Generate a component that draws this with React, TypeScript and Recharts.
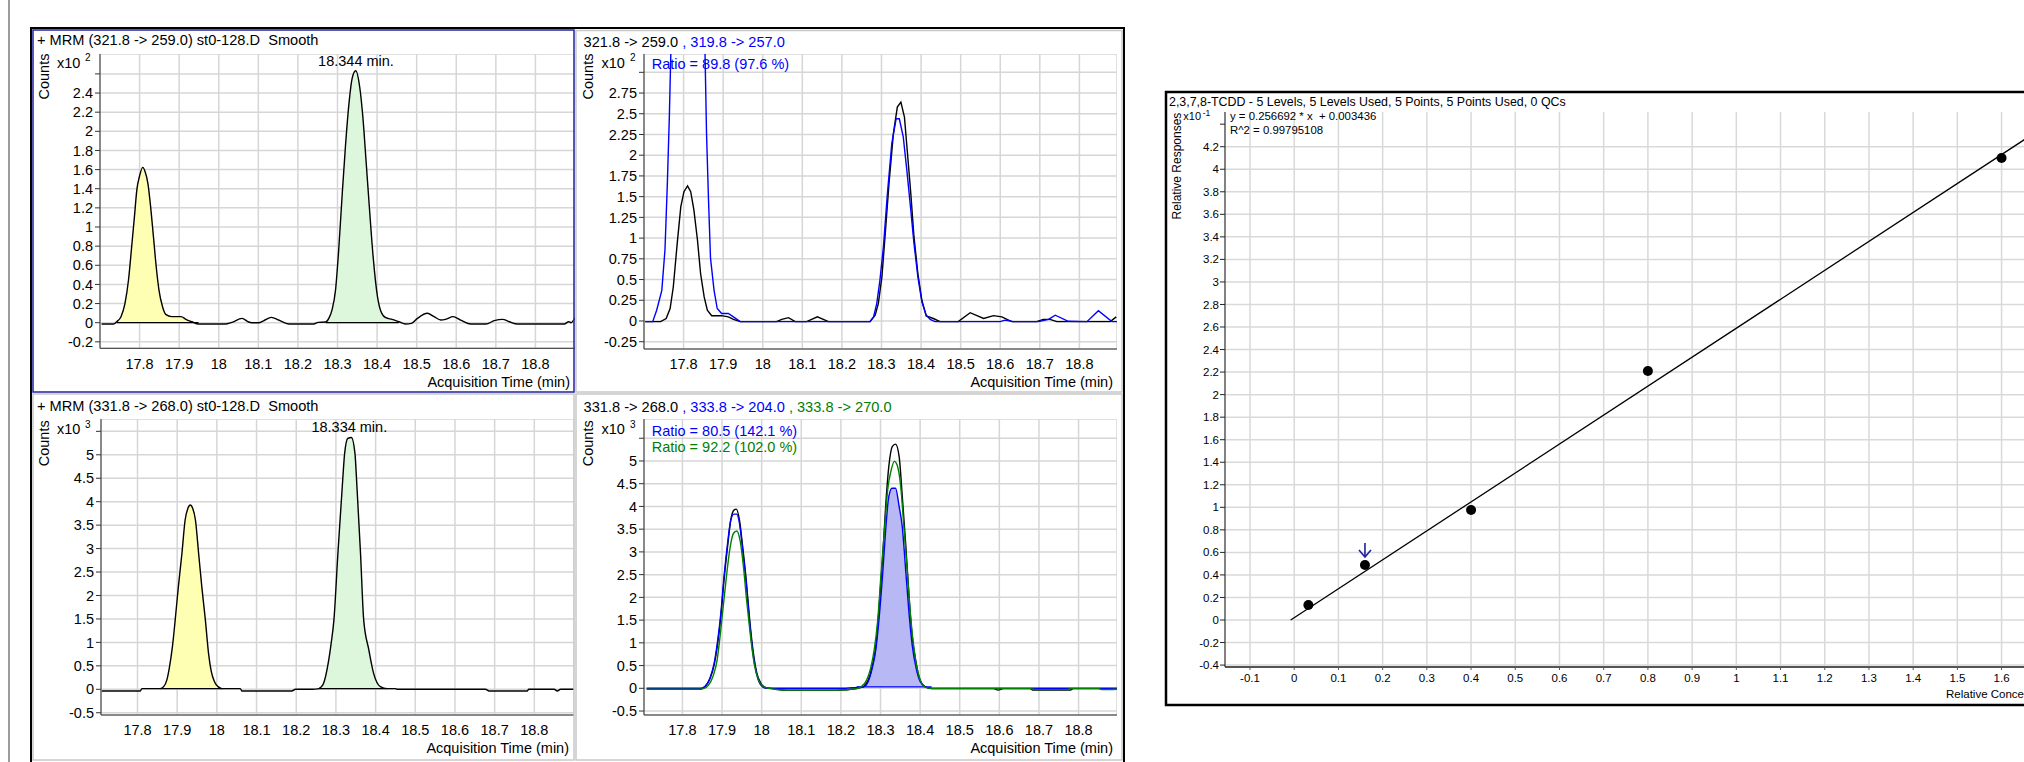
import React from "react";
import { Area, CartesianGrid, ComposedChart, Line, Scatter, XAxis, YAxis } from "recharts";

type Pt = { t: number; v: number };
const pts = (rows: number[][]): Pt[] => rows.map(([t, v]) => ({ t, v }));

// ---- chromatogram data (time in min, counts in x10^n) ----
const timeTicks = [17.8, 17.9, 18, 18.1, 18.2, 18.3, 18.4, 18.5, 18.6, 18.7, 18.8];
const p1Ticks = [-0.2, 0, 0.2, 0.4, 0.6, 0.8, 1, 1.2, 1.4, 1.6, 1.8, 2, 2.2, 2.4, 2.6];
const p2Ticks = [-0.25, 0, 0.25, 0.5, 0.75, 1, 1.25, 1.5, 1.75, 2, 2.25, 2.5, 2.75, 3];
const p34Ticks = [-0.5, 0, 0.5, 1, 1.5, 2, 2.5, 3, 3.5, 4, 4.5, 5, 5.5];

const q1Trace = pts([
  [17.704, -0.014], [17.734, -0.014], [17.742, 0.01], [17.753, 0.063], [17.763, 0.2], [17.772, 0.446],
  [17.78, 0.794], [17.787, 1.108], [17.793, 1.386], [17.8, 1.533], [17.808, 1.623], [17.814, 1.578],
  [17.821, 1.456], [17.827, 1.247], [17.835, 0.899], [17.842, 0.585], [17.849, 0.341], [17.858, 0.167],
  [17.866, 0.087], [17.881, 0.063], [17.905, 0.063], [17.917, 0.035], [17.932, 0.01], [17.949, -0.014],
  [18.016, -0.014], [18.033, 0.003], [18.059, 0.045], [18.074, 0.01], [18.084, 0], [18.101, 0],
  [18.113, 0.02], [18.133, 0.056], [18.151, 0.028], [18.177, -0.014], [18.24, -0.014], [18.251, 0.003],
  [18.27, 0.007], [18.278, 0.045], [18.286, 0.132], [18.295, 0.341], [18.303, 0.759], [18.312, 1.351],
  [18.32, 1.839], [18.329, 2.292], [18.337, 2.553], [18.346, 2.633], [18.356, 2.466], [18.364, 2.153],
  [18.372, 1.7], [18.381, 1.177], [18.39, 0.69], [18.401, 0.272], [18.41, 0.115], [18.422, 0.052],
  [18.438, 0.035], [18.455, 0.01], [18.472, -0.014], [18.487, -0.007], [18.502, 0.045], [18.527, 0.098],
  [18.544, 0.063], [18.561, 0.028], [18.573, 0.035], [18.592, 0.063], [18.611, 0.028], [18.637, -0.014],
  [18.675, -0.014], [18.696, 0.021], [18.717, 0.035], [18.734, 0.01], [18.755, -0.014], [18.873, -0.014],
  [18.884, 0.01], [18.89, 0], [18.9, 0.05],
]);

const q2Black = pts([
  [17.703, -0.008], [17.742, -0.008], [17.756, 0.03], [17.766, 0.15], [17.774, 0.41], [17.784, 0.94],
  [17.793, 1.38], [17.801, 1.56], [17.81, 1.63], [17.818, 1.56], [17.826, 1.34], [17.835, 0.98],
  [17.843, 0.57], [17.852, 0.29], [17.86, 0.13], [17.871, 0.064], [17.896, 0.064], [17.913, 0.05],
  [17.926, 0.02], [17.943, -0.008], [18.035, -0.008], [18.048, 0.02], [18.065, 0.04], [18.082, -0.008],
  [18.111, -0.008], [18.138, 0.05], [18.166, -0.008], [18.271, -0.008], [18.284, 0.07], [18.292, 0.21],
  [18.301, 0.53], [18.309, 1.02], [18.319, 1.66], [18.33, 2.26], [18.34, 2.58], [18.349, 2.64],
  [18.358, 2.46], [18.365, 2.06], [18.374, 1.54], [18.382, 1.02], [18.392, 0.57], [18.402, 0.25],
  [18.413, 0.06], [18.431, 0.03], [18.448, -0.008], [18.494, -0.008], [18.524, 0.1], [18.558, 0.03],
  [18.583, 0.064], [18.604, 0.05], [18.629, -0.008], [18.692, -0.008], [18.709, 0.02], [18.726, 0.02],
  [18.743, -0.008], [18.878, -0.008], [18.893, 0.05],
]);

const q2Blue = pts([
  [17.703, -0.008], [17.722, -0.008], [17.732, 0.13], [17.745, 0.37], [17.753, 0.86], [17.759, 1.66],
  [17.764, 2.46], [17.768, 3.27], [17.78, 4.6], [17.795, 5.5], [17.81, 5.8], [17.825, 5.4], [17.84, 4.4],
  [17.854, 3.27], [17.858, 2.26], [17.863, 1.46], [17.868, 0.76], [17.877, 0.37], [17.885, 0.15],
  [17.896, 0.09], [17.913, 0.09], [17.926, 0.05], [17.943, -0.008], [18.271, -0.008], [18.28, 0.05],
  [18.288, 0.21], [18.296, 0.49], [18.305, 0.9], [18.315, 1.54], [18.326, 2.14], [18.337, 2.44],
  [18.345, 2.44], [18.355, 2.22], [18.364, 1.82], [18.374, 1.34], [18.382, 0.94], [18.392, 0.53],
  [18.402, 0.23], [18.413, 0.07], [18.423, 0.02], [18.435, -0.008], [18.6, -0.008], [18.612, 0.01],
  [18.633, -0.008], [18.697, -0.008], [18.722, 0.02], [18.739, 0.07], [18.772, -0.004], [18.819, -0.008],
  [18.848, 0.125], [18.882, -0.008], [18.895, -0.008],
]);

const q3Trace = pts([
  [17.71, -0.036], [17.807, -0.036], [17.811, 0.014], [17.857, 0.014], [17.866, 0.057], [17.874, 0.2],
  [17.88, 0.447], [17.888, 0.909], [17.895, 1.48], [17.903, 2.19], [17.912, 2.9], [17.92, 3.61],
  [17.927, 3.86], [17.933, 3.93], [17.939, 3.86], [17.946, 3.61], [17.954, 2.9], [17.962, 2.19],
  [17.971, 1.48], [17.979, 0.767], [17.986, 0.376], [17.994, 0.163], [18.003, 0.057], [18.013, 0.014],
  [18.059, 0.014], [18.063, -0.036], [18.189, -0.036], [18.198, 0], [18.24, 0], [18.257, 0.014],
  [18.261, 0.036], [18.269, 0.128], [18.279, 0.483], [18.288, 0.98], [18.295, 1.48], [18.305, 2.9],
  [18.316, 4.32], [18.322, 5.03], [18.33, 5.35], [18.339, 5.37], [18.348, 5.03], [18.353, 4.32],
  [18.362, 2.9], [18.37, 1.48], [18.383, 0.84], [18.395, 0.34], [18.412, 0.057], [18.429, 0.014],
  [18.45, 0.014], [18.454, 0], [18.677, 0], [18.686, -0.036], [18.782, -0.036], [18.786, 0], [18.85, 0],
  [18.858, -0.036], [18.866, 0], [18.9, 0],
]);

const q4Black = pts([
  [17.71, -0.02], [17.845, -0.02], [17.857, 0.04], [17.87, 0.22], [17.88, 0.51], [17.888, 0.92],
  [17.897, 1.58], [17.905, 2.38], [17.914, 3.12], [17.922, 3.7], [17.93, 3.92], [17.936, 3.94],
  [17.944, 3.7], [17.952, 3.12], [17.961, 2.38], [17.969, 1.58], [17.977, 0.92], [17.988, 0.33],
  [17.998, 0.11], [18.011, 0.015], [18.03, -0.007], [18.063, -0.04], [18.189, -0.04], [18.24, -0.007],
  [18.257, 0.04], [18.269, 0.18], [18.279, 0.48], [18.288, 0.92], [18.296, 1.72], [18.305, 2.82],
  [18.313, 4.0], [18.321, 4.88], [18.33, 5.32], [18.338, 5.37], [18.347, 5.1], [18.355, 4.22],
  [18.364, 3.12], [18.372, 2.02], [18.38, 1.14], [18.39, 0.55], [18.4, 0.18], [18.412, 0.04],
  [18.429, -0.007], [18.585, -0.007], [18.597, -0.04], [18.61, -0.007], [18.677, -0.007], [18.686, -0.04],
  [18.778, -0.04], [18.787, -0.007], [18.9, -0.007],
]);

const q4Blue = pts([
  [17.71, 0], [17.845, 0], [17.857, 0.04], [17.87, 0.24], [17.88, 0.55], [17.888, 0.99], [17.897, 1.65],
  [17.905, 2.46], [17.914, 3.19], [17.922, 3.7], [17.93, 3.83], [17.937, 3.83], [17.944, 3.63],
  [17.952, 3.04], [17.961, 2.31], [17.969, 1.5], [17.977, 0.84], [17.988, 0.29], [17.998, 0.07],
  [18.011, 0], [18.2, 0], [18.24, 0.02], [18.257, 0.03], [18.269, 0.15], [18.279, 0.44], [18.288, 0.84],
  [18.296, 1.5], [18.305, 2.46], [18.313, 3.48], [18.321, 4.22], [18.329, 4.4], [18.338, 4.4],
  [18.347, 4.0], [18.355, 3.55], [18.364, 2.55], [18.372, 1.65], [18.38, 0.95], [18.39, 0.44],
  [18.4, 0.15], [18.412, 0.04], [18.429, 0], [18.9, 0],
]);

const q4Green = pts([
  [17.71, -0.02], [17.84, -0.02], [17.853, -0.007], [17.866, 0.07], [17.877, 0.26], [17.887, 0.59],
  [17.895, 1.14], [17.903, 1.8], [17.912, 2.53], [17.92, 3.08], [17.929, 3.41], [17.937, 3.46],
  [17.946, 3.23], [17.954, 2.68], [17.962, 1.94], [17.971, 1.21], [17.981, 0.55], [17.992, 0.18],
  [18.004, 0.04], [18.021, -0.007], [18.063, -0.04], [18.189, -0.04], [18.24, -0.007], [18.252, 0.04],
  [18.265, 0.18], [18.275, 0.44], [18.284, 0.84], [18.293, 1.5], [18.301, 2.46], [18.31, 3.48],
  [18.318, 4.36], [18.327, 4.8], [18.335, 4.99], [18.342, 4.91], [18.351, 4.44], [18.359, 3.56],
  [18.368, 2.53], [18.376, 1.58], [18.385, 0.84], [18.394, 0.37], [18.404, 0.11], [18.416, 0.015],
  [18.433, -0.007], [18.68, -0.007], [18.69, -0.03], [18.77, -0.03], [18.78, -0.007], [18.85, -0.007],
  [18.86, -0.03], [18.9, -0.02],
]);

// integrated peak windows [start, end, baseline]
const q1Peaks = [[17.742, 17.949, 0], [18.27, 18.455, 0]];
const q3Peaks = [[17.857, 18.013, 0.014], [18.257, 18.429, 0.014]];
const q4Peaks = [[18.24, 18.429, 0.03]];

// ---- calibration data (x10^-1 response) ----
const calConc = [0.032, 0.16, 0.4, 0.8, 1.6];
const calResp = [0.133, 0.488, 0.976, 2.209, 4.1];
const fitConc = [-0.008, 1.74];
const fitResp = [0.0, 4.49];
const calXTicks = [-0.1, 0, 0.1, 0.2, 0.3, 0.4, 0.5, 0.6, 0.7, 0.8, 0.9, 1, 1.1, 1.2, 1.3, 1.4, 1.5, 1.6];
const calYTicks = [-0.4, -0.2, 0, 0.2, 0.4, 0.6, 0.8, 1, 1.2, 1.4, 1.6, 1.8, 2, 2.2, 2.4, 2.6, 2.8, 3, 3.2, 3.4, 3.6, 3.8, 4, 4.2, 4.4];

const calPoints = calConc.map((x, i) => ({ x, y: calResp[i] }));
const fitLine = fitConc.map((x, i) => ({ x, y: fitResp[i] }));

const FONT = '"Liberation Sans", Arial, Helvetica, sans-serif';
const fmt = (v: number) => String(Number(v.toFixed(2)));

const YELLOW = "#ffffb4";
const GREEN = "#ddf7dd";
const BLUEFILL = "#b8b8f4";
const FS = 14.5;

type Trace = { data: Pt[]; color: string };
type Fill = { range: number[]; color: string; edge: string; source: Pt[] };

function Chromatogram({ box, xDomain, yDomain, yTicks, hideTick, traces, fills, curve }: {
  box: number[]; xDomain: number[]; yDomain: number[]; yTicks: number[]; hideTick: number;
  traces: Trace[]; fills: Fill[]; curve: any;
}) {
  const yw = 64;
  const xh = 40;
  const [l, t, r, b] = box;
  return (
    <div style={{ position: "absolute", left: l - yw, top: t }}>
      <ComposedChart width={r - l + yw} height={b - t + xh} margin={{ top: 0, right: 0, bottom: 0, left: 0 }}>
        <CartesianGrid stroke="#d6d6d6" strokeWidth={1.5} />
        <XAxis type="number" dataKey="t" domain={xDomain} ticks={timeTicks} allowDataOverflow interval={0}
          height={xh} tickLine={false} tickMargin={4} axisLine={{ stroke: "#333" }}
          tick={{ fontSize: FS, fill: "#000" }} />
        <YAxis type="number" domain={yDomain} ticks={yTicks} allowDataOverflow interval={0} width={yw}
          tickSize={5} tickMargin={2} axisLine={{ stroke: "#333" }} tickLine={{ stroke: "#333" }}
          tick={{ fontSize: FS, fill: "#000" }}
          tickFormatter={(v: number) => (v === hideTick ? "" : fmt(v))} />
        {fills.map((f, i) => (
          <Area key={"a" + i} data={f.source.filter((p) => p.t >= f.range[0] && p.t <= f.range[1])}
            dataKey="v" type={curve} stroke="none" fill={f.color} fillOpacity={1} baseValue={f.range[2]}
            isAnimationActive={false} />
        ))}
        {fills.map((f, i) => (
          <Line key={"b" + i} data={[{ t: f.range[0], v: f.range[2] }, { t: f.range[1], v: f.range[2] }]}
            dataKey="v" stroke={f.edge} strokeWidth={1.2} dot={false} isAnimationActive={false} />
        ))}
        {traces.map((tr, i) => (
          <Line key={"l" + i} data={tr.data} dataKey="v" type={curve} stroke={tr.color} strokeWidth={1.4}
            dot={false} isAnimationActive={false} />
        ))}
      </ComposedChart>
    </div>
  );
}

const T = ({ x, y, size = FS, color = "#000", anchor = "start", rotate = false, children }: any) => (
  <text x={x} y={y} fontSize={size} fill={color} textAnchor={anchor} dominantBaseline="central"
    xmlSpace="preserve" style={{ whiteSpace: "pre" }}
    transform={rotate ? `rotate(-90 ${x} ${y})` : undefined}>{children}</text>
);

const CalDot = (p: any) => <circle cx={p.cx} cy={p.cy} r={5} fill="#000" />;
const FlagArrow = (p: any) => (
  <g stroke="#1f1f9f" strokeWidth={1.6} fill="none">
    <line x1={p.cx} y1={p.cy - 22} x2={p.cx} y2={p.cy - 8} />
    <polyline points={`${p.cx - 6},${p.cy - 15} ${p.cx},${p.cy - 8} ${p.cx + 6},${p.cy - 15}`} />
  </g>
);

export default function App() {
  const calL = 1224.5, calT = 112, calR = 2067.4, calB = 667;
  return (
    <div style={{ position: "absolute", left: 0, top: 0, width: 2024, height: 762, overflow: "hidden", background: "#fff", fontFamily: FONT }}>
      <Chromatogram box={[100, 54, 575, 348.3]} xDomain={[17.7, 18.9]} yDomain={[-0.2675, 2.808]}
        yTicks={p1Ticks} hideTick={2.6} curve="monotone"
        traces={[{ data: q1Trace, color: "#000" }]}
        fills={[
          { range: q1Peaks[0], color: YELLOW, edge: "#000", source: q1Trace },
          { range: q1Peaks[1], color: GREEN, edge: "#000", source: q1Trace },
        ]} />
      <Chromatogram box={[644, 54, 1117, 349]} xDomain={[17.7, 18.895]} yDomain={[-0.338, 3.221]}
        yTicks={p2Ticks} hideTick={3} curve="linear"
        traces={[{ data: q2Black, color: "#000" }, { data: q2Blue, color: "#0000ff" }]} fills={[]} />
      <Chromatogram box={[100.5, 419, 573.5, 715]} xDomain={[17.708, 18.9]} yDomain={[-0.548, 5.763]}
        yTicks={p34Ticks} hideTick={5.5} curve="monotone"
        traces={[{ data: q3Trace, color: "#000" }]}
        fills={[
          { range: q3Peaks[0], color: YELLOW, edge: "#000", source: q3Trace },
          { range: q3Peaks[1], color: GREEN, edge: "#000", source: q3Trace },
        ]} />
      <Chromatogram box={[644, 419, 1117, 715]} xDomain={[17.703, 18.897]} yDomain={[-0.587, 5.923]}
        yTicks={p34Ticks} hideTick={5.5} curve="monotone"
        traces={[{ data: q4Black, color: "#000" }, { data: q4Blue, color: "#0000ff" }, { data: q4Green, color: "#008000" }]}
        fills={[{ range: q4Peaks[0], color: BLUEFILL, edge: "#0000ff", source: q4Blue }]} />

      <div style={{ position: "absolute", left: calL - 50, top: calT }}>
        <ComposedChart width={calR - calL + 50} height={calB - calT + 30} margin={{ top: 0, right: 0, bottom: 0, left: 0 }}>
          <CartesianGrid stroke="#d9d9d9" strokeWidth={1.5} horizontalValues={calYTicks.slice(0, -1)} />
          <XAxis type="number" dataKey="x" domain={[-0.1566, 1.75]} ticks={calXTicks} allowDataOverflow interval={0}
            height={30} tickSize={3} tickMargin={4} axisLine={{ stroke: "#555", strokeWidth: 2 }}
            tickLine={{ stroke: "#555" }} tick={{ fontSize: 11.5, fill: "#000" }} tickFormatter={fmt} />
          <YAxis type="number" dataKey="y" domain={[-0.417, 4.508]} ticks={calYTicks} allowDataOverflow interval={0}
            width={50} tickSize={5} tickMargin={1} axisLine={{ stroke: "#222" }} tickLine={{ stroke: "#222" }}
            tick={{ fontSize: 11.5, fill: "#000" }}
            tickFormatter={(v: number) => (v === 4.4 ? "" : fmt(v))} />
          <Line data={fitLine} dataKey="y" type="linear" stroke="#000" strokeWidth={1.3} dot={false} isAnimationActive={false} />
          <Scatter data={calPoints} dataKey="y" shape={CalDot} isAnimationActive={false} />
          <Scatter data={[calPoints[1]]} dataKey="y" shape={FlagArrow} isAnimationActive={false} />
        </ComposedChart>
      </div>

      <svg width={2024} height={762} style={{ position: "absolute", left: 0, top: 0, pointerEvents: "none" }} fontFamily={FONT}>
        <rect x={8} y={0} width={2} height={762} fill="#9c9c9c" />
        <rect x={31} y={28} width={1093} height={770} fill="none" stroke="#000" strokeWidth={2} />
        <rect x={33} y={30} width={541} height={362} fill="none" stroke="#2f2fa6" strokeWidth={1.6} />
        <rect x={576} y={30.5} width={546} height={361.5} fill="none" stroke="#c8c8c8" strokeWidth={1.5} />
        <rect x={33} y={394} width={541} height={366} fill="none" stroke="#c8c8c8" strokeWidth={1.5} />
        <rect x={576} y={394} width={546} height={366} fill="none" stroke="#c8c8c8" strokeWidth={1.5} />
        <rect x={1166} y={92} width={900} height={613} fill="none" stroke="#000" strokeWidth={2.5} />

        {/* panel 1 */}
        <T x={37} y={39.5} size={14.6}>{"+ MRM (321.8 -> 259.0) st0-128.D  Smooth"}</T>
        <T x={43.7} y={76.5} rotate anchor="middle">Counts</T>
        <T x={57} y={62.7}>x10</T>
        <T x={85} y={57} size={10}>2</T>
        <T x={356} y={61.3} anchor="middle">18.344 min.</T>
        <T x={570} y={381.5} anchor="end">Acquisition Time (min)</T>

        {/* panel 2 */}
        <text x={583.6} y={41.5} fontSize={14.6} dominantBaseline="central" xmlSpace="preserve" style={{ whiteSpace: "pre" }}>
          <tspan fill="#000">321.8 -&gt; 259.0</tspan><tspan fill="#0000ff">{" , 319.8 -> 257.0"}</tspan>
        </text>
        <T x={588} y={76.5} rotate anchor="middle">Counts</T>
        <T x={601.4} y={62.7}>x10</T>
        <T x={630} y={57} size={10}>2</T>
        <T x={651.7} y={64} color="#0000ff">Ratio = 89.8 (97.6 %)</T>
        <T x={1113} y={381.5} anchor="end">Acquisition Time (min)</T>

        {/* panel 3 */}
        <T x={37} y={406} size={14.6}>{"+ MRM (331.8 -> 268.0) st0-128.D  Smooth"}</T>
        <T x={43.7} y={443.3} rotate anchor="middle">Counts</T>
        <T x={57} y={429.3}>x10</T>
        <T x={85} y={424} size={10}>3</T>
        <T x={349.3} y={426.7} anchor="middle">18.334 min.</T>
        <T x={569} y={748.3} anchor="end">Acquisition Time (min)</T>

        {/* panel 4 */}
        <text x={583.6} y={407.3} fontSize={14.6} dominantBaseline="central" xmlSpace="preserve" style={{ whiteSpace: "pre" }}>
          <tspan fill="#000">331.8 -&gt; 268.0</tspan><tspan fill="#0000ff">{" , 333.8 -> 204.0"}</tspan><tspan fill="#008000">{" , 333.8 -> 270.0"}</tspan>
        </text>
        <T x={588} y={443.3} rotate anchor="middle">Counts</T>
        <T x={601.4} y={429.3}>x10</T>
        <T x={630} y={424} size={10}>3</T>
        <T x={651.7} y={430.7} color="#0000ff">Ratio = 80.5 (142.1 %)</T>
        <T x={651.7} y={446.7} color="#008000">Ratio = 92.2 (102.0 %)</T>
        <T x={1113} y={748.3} anchor="end">Acquisition Time (min)</T>

        {/* calibration */}
        <T x={1169} y={101.7} size={12.4}>2,3,7,8-TCDD - 5 Levels, 5 Levels Used, 5 Points, 5 Points Used, 0 QCs</T>
        <T x={1177} y={166} size={12} rotate anchor="middle">Relative Responses</T>
        <T x={1183.3} y={116} size={11}>x10</T>
        <T x={1202.7} y={113} size={8.5}>-1</T>
        <T x={1230} y={116} size={11.4}>{"y = 0.256692 * x  + 0.003436"}</T>
        <T x={1230} y={130} size={11.4}>R^2 = 0.99795108</T>
        <T x={1946} y={694.3} size={11.5}>Relative Concentration</T>
      </svg>
    </div>
  );
}
